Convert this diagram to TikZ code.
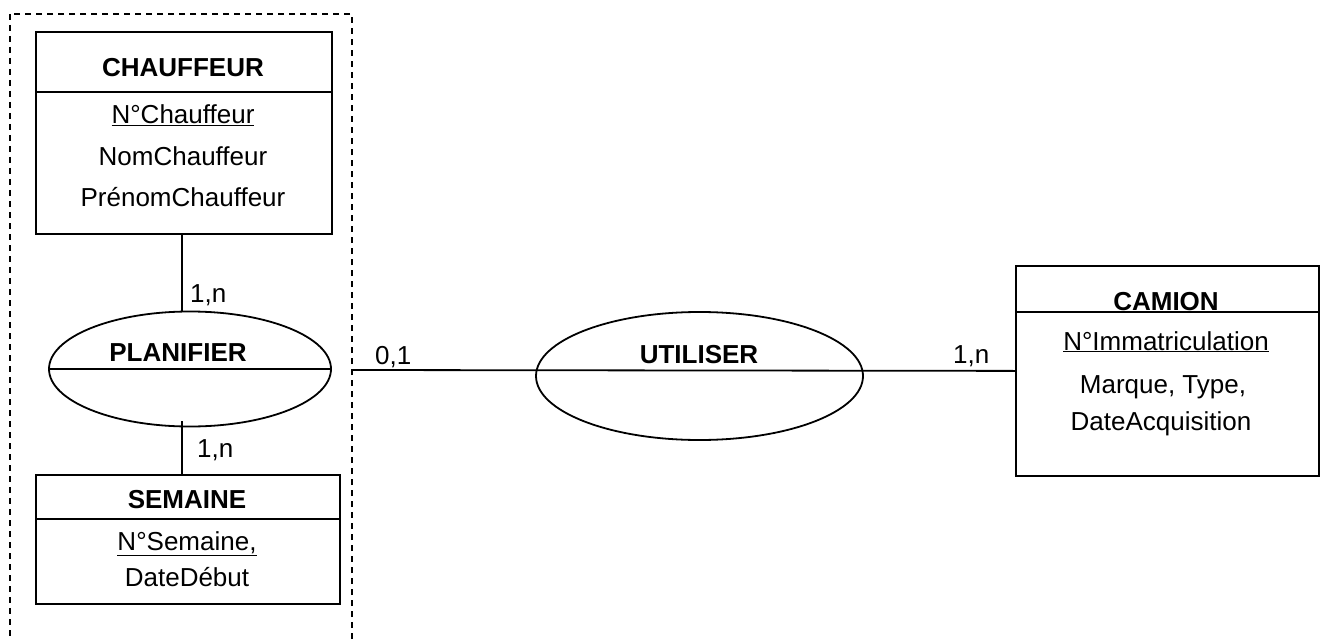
\documentclass[tikz,border=0pt]{standalone}
\usepackage{fontspec}
\setmainfont{Liberation Sans}
\usetikzlibrary{shapes.geometric}
\begin{document}
\begin{tikzpicture}[x=1pt,y=-1pt,
  ebox/.style={draw, line width=1.8pt, rectangle, inner sep=0pt, anchor=north west},
  rel/.style={draw, line width=1.8pt, ellipse, inner sep=0pt},
  txt/.style={anchor=base, inner sep=0pt, font=\fontsize{26}{31}\selectfont},
  ttl/.style={txt, font=\fontsize{26}{31}\selectfont\bfseries},
  lbl/.style={anchor=base west, inner sep=0pt, font=\fontsize{26}{31}\selectfont},
  conn/.style={line width=1.8pt},
  grp/.style={line width=1.8pt, dash pattern=on 6pt off 5pt}]
\clip (0,0) rectangle (1324,639);
\fill[white] (0,0) rectangle (1324,639);
% group (dashed)
\draw[grp] (10,14) rectangle (352,700);
\coordinate (grpR) at (352,370);
% entities
\node[ebox, minimum width=296pt, minimum height=202pt] (chauffeur) at (35,31) {};
\draw[conn] (chauffeur.west |- 0,92) -- (chauffeur.east |- 0,92);
\node[ebox, minimum width=304pt, minimum height=129pt] (semaine) at (35,474) {};
\draw[conn] (semaine.west |- 0,519) -- (semaine.east |- 0,519);
\node[ebox, minimum width=303pt, minimum height=210pt] (camion) at (1015,265) {};
\draw[conn] (camion.west |- 0,312) -- (camion.east |- 0,312);
% relations
\node[rel, minimum width=282pt, minimum height=115pt] (planifier) at (190,369) {};
\draw[conn] (planifier.west) -- (planifier.east);
\node[rel, minimum width=327pt, minimum height=128pt] (utiliser) at (699.5,376) {};
% connectors
\draw[conn] (chauffeur.south -| 182,0) -- (planifier.north -| 182,0);
\draw[conn] ([yshift=6pt]planifier.south -| 182,0) -- (semaine.north -| 182,0);
\draw[conn] (grpR) -- (camion.west);
% texts
\node[ttl] (tChauffeur) at (183,77) {CHAUFFEUR};
\node[txt] (aChauffeur1) at (183,124) {\underline{N°Chauffeur}};
\node[txt] (aChauffeur2) at (183,166) {NomChauffeur};
\node[txt] (aChauffeur3) at (183,206) {PrénomChauffeur};
\node[ttl] (tPlanifier) at (178,361) {PLANIFIER};
\node[lbl] (c1) at (190,302) {1,n};
\node[lbl] (c2) at (197,457) {1,n};
\node[ttl] (tSemaine) at (187,508) {SEMAINE};
\node[txt] (aSemaine1) at (187,550) {\underline{N°Semaine,}};
\node[txt] (aSemaine2) at (187,586) {DateDébut};
\node[lbl] (c3) at (375,364) {0,1};
\node[ttl] (tUtiliser) at (699,363) {UTILISER};
\node[lbl] (c4) at (953,363) {1,n};
\node[ttl] (tCamion) at (1166,310) {CAMION};
\node[txt] (aCamion1) at (1166,350) {\underline{N°Immatriculation}};
\node[txt] (aCamion2) at (1163,393) {Marque, Type,};
\node[txt] (aCamion3) at (1161,430) {DateAcquisition};
\end{tikzpicture}
\end{document}
